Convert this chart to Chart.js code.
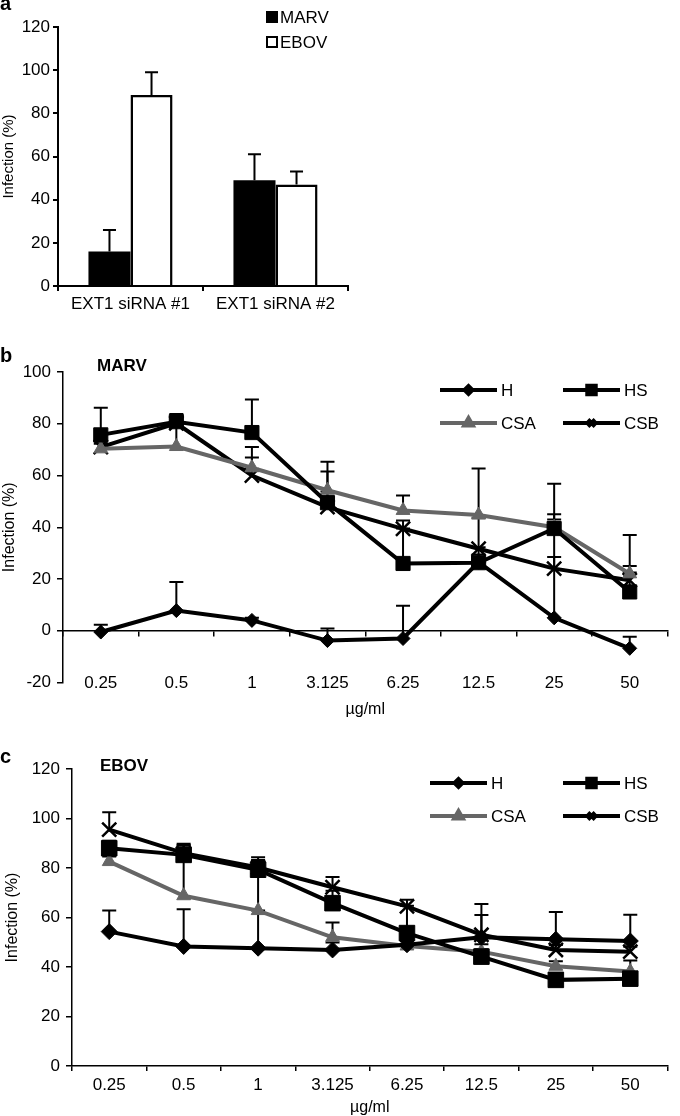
<!DOCTYPE html>
<html>
<head>
<meta charset="utf-8">
<script src="https://cdn.jsdelivr.net/npm/chart.js@4.4.1/dist/chart.umd.min.js"></script>
<style>
  html, body { margin: 0; padding: 0; background: #fff; }
  body { width: 680px; height: 1116px; position: relative; overflow: hidden;
         font-family: "Liberation Sans", Arial, sans-serif; color: #000; }
  .panel { position: absolute; left: 0; }
  .tag { position: absolute; font-weight: bold; font-size: 20px; line-height: 1; }
  .inner { position: absolute; font-weight: bold; font-size: 17px; line-height: 1; }
</style>
</head>
<body>
<canvas class="panel" id="chartA" width="680" height="310" style="top:0"></canvas>
<canvas class="panel" id="chartB" width="680" height="420" style="top:310px"></canvas>
<canvas class="panel" id="chartC" width="680" height="376" style="top:740px"></canvas>
<div class="tag" style="left:0;top:-7px">a</div>
<div class="tag" style="left:0;top:345px">b</div>
<div class="tag" style="left:0;top:746px">c</div>
<div class="inner" style="left:97px;top:357px">MARV</div>
<div class="inner" style="left:100px;top:757px">EBOV</div>
<script>
// Panel a
var siRNAs = ['EXT1 siRNA #1', 'EXT1 siRNA #2'];
var marv = [16, 49];
var marvErr = [10, 12];
var ebov = [88.5, 47];
var ebovErr = [10.5, 6];

// Panels b and c
var doses = ['0.25', '0.5', '1', '3.125', '6.25', '12.5', '25', '50'];

// b: MARV
var bH = [-0.5, 7.8, 4, -3.8, -3, 26.5, 5, -6.8];
var bHErr = [2.8, 11, 1, 4.7, 12.7, 3, 23.5, 4.5];
var bHS = [75.7, 80.8, 76.6, 49.5, 26, 26.3, 39.5, 15];
var bHSErr = [10.5, 3, 12.8, 12, 13.5, 6, 5.5, 10];
var bCSA = [70.3, 71.2, 63, 54.3, 46.5, 44.7, 40, 22];
var bCSAErr = [2, 10, 8, 11, 5.8, 18, 16.8, 15];
var bCSB = [71, 80.2, 60, 47.8, 39.4, 31.7, 24, 19.5];
var bCSBErr = [2, 2, 7, 6, 3.2, 12, 19, 3];

// c: EBOV
var cH = [54.3, 48.3, 47.6, 46.9, 49, 52, 51.2, 50.5];
var cHErr = [8.5, 15, 15.2, 3, 2, 9, 11, 10.6];
var cHS = [88, 85.3, 79.3, 65.8, 53.7, 44.2, 34.8, 35.3];
var cHSErr = [3, 4, 5, 5, 11, 3, 2, 2];
var cCSA = [82.6, 68.8, 62.8, 52, 48.5, 46.2, 40.3, 38.2];
var cCSAErr = [2, 21, 20, 6, 2, 3, 2, 4.4];
var cCSB = [95.5, 86, 80.2, 72.2, 64.5, 53, 46.9, 46.2];
var cCSBErr = [7, 3, 3, 4.2, 2.7, 12.5, 2, 2];

Chart.defaults.font.family = '"Liberation Sans", Arial, sans-serif';
Chart.defaults.font.size = 17;
Chart.defaults.color = '#000';

// upward error bars, drawn behind the markers
var errorBars = {
  id: 'errorBars',
  beforeDatasetsDraw: function (chart, args, opts) {
    var ctx = chart.ctx, y = chart.scales.y;
    ctx.save();
    ctx.strokeStyle = '#000';
    ctx.lineWidth = opts.width;
    chart.data.datasets.forEach(function (ds, i) {
      chart.getDatasetMeta(i).data.forEach(function (pt, j) {
        var base = y.getPixelForValue(ds.data[j]);
        var top = y.getPixelForValue(ds.data[j] + ds.errors[j]);
        ctx.beginPath();
        ctx.moveTo(pt.x, base);
        ctx.lineTo(pt.x, top);
        ctx.moveTo(pt.x - opts.cap, top);
        ctx.lineTo(pt.x + opts.cap, top);
        ctx.stroke();
      });
    });
    ctx.restore();
  }
};

// 2x2 legend with line samples
var lineKey = {
  id: 'lineKey',
  afterDraw: function (chart, args, opts) {
    var ctx = chart.ctx, area = chart.chartArea;
    ctx.save();
    chart.data.datasets.forEach(function (ds, k) {
      var x = area.left + opts.x + (k % 2) * opts.colW;
      var y = area.top + opts.y + Math.floor(k / 2) * opts.rowH;
      ctx.strokeStyle = ds.borderColor;
      ctx.lineWidth = 4;
      ctx.beginPath();
      ctx.moveTo(x, y);
      ctx.lineTo(x + opts.len, y);
      ctx.stroke();
      ctx.fillStyle = ds.borderColor;
      Chart.helpers.drawPoint(ctx, {
        pointStyle: ds.pointStyle, radius: opts.marks[k], borderWidth: 2, rotation: 0
      }, x + opts.len / 2, y);
      ctx.fillStyle = '#000';
      ctx.font = '17px "Liberation Sans", Arial, sans-serif';
      ctx.textBaseline = 'middle';
      ctx.fillText(ds.label, x + opts.len + 4, y + 1);
    });
    ctx.restore();
  }
};

// square keys for the bar panel
var boxKey = {
  id: 'boxKey',
  afterDraw: function (chart, args, opts) {
    var ctx = chart.ctx, area = chart.chartArea;
    ctx.save();
    chart.data.datasets.forEach(function (ds, k) {
      var x = area.left + opts.x;
      var y = area.top + opts.y + k * opts.rowH;
      ctx.fillStyle = ds.backgroundColor;
      ctx.fillRect(x, y - 6, 12, 12);
      ctx.strokeStyle = '#000';
      ctx.lineWidth = 2;
      ctx.strokeRect(x + 1, y - 5, 10, 10);
      ctx.fillStyle = '#000';
      ctx.font = '17px "Liberation Sans", Arial, sans-serif';
      ctx.textBaseline = 'middle';
      ctx.fillText(ds.label, x + 14, y + 1);
    });
    ctx.restore();
  }
};

function series(label, data, err, color, style, radius) {
  return {
    label: label, data: data, errors: err,
    borderColor: color, backgroundColor: color,
    pointBackgroundColor: color, pointBorderColor: color,
    pointStyle: style, pointRadius: radius, pointHoverRadius: radius,
    pointBorderWidth: style === 'crossRot' ? 2.5 : 1,
    borderWidth: 4, tension: 0
  };
}

// Chart a
new Chart(document.getElementById('chartA'), {
  type: 'bar',
  data: {
    labels: siRNAs,
    datasets: [
      { label: 'MARV', data: marv, errors: marvErr, backgroundColor: '#000', borderColor: '#000',
        borderWidth: 0, categoryPercentage: 0.58, barPercentage: 1 },
      { label: 'EBOV', data: ebov, errors: ebovErr, backgroundColor: '#fff', borderColor: '#000',
        borderWidth: 2.5, categoryPercentage: 0.58, barPercentage: 1 }
    ]
  },
  options: {
    responsive: false,
    animation: false,
    layout: { padding: { left: 0, top: 27, right: 332, bottom: 0 } },
    plugins: {
      legend: { display: false },
      tooltip: { enabled: false },
      errorBars: { width: 2, cap: 6.5 },
      boxKey: { x: 208, y: -10, rowH: 25 }
    },
    scales: {
      x: {
        border: { color: '#000', width: 2 },
        grid: { offset: true, drawOnChartArea: false, color: '#000', lineWidth: 2, tickLength: 5 },
        ticks: { padding: 3 },
        afterFit: function (s) { s.height = 24; }
      },
      y: {
        min: 0, max: 120,
        border: { color: '#000', width: 2 },
        grid: { drawOnChartArea: false, color: '#000', lineWidth: 2, tickLength: 5 },
        ticks: { stepSize: 20, padding: 3 },
        title: { display: true, text: 'Infection (%)', font: { size: 15 }, padding: 0 },
        afterFit: function (s) { s.width = 58; }
      }
    }
  },
  plugins: [errorBars, boxKey]
});

// Chart b
new Chart(document.getElementById('chartB'), {
  type: 'line',
  data: {
    labels: doses,
    datasets: [
      series('H', bH, bHErr, '#000', 'rectRot', 7),
      series('HS', bHS, bHSErr, '#000', 'rect', 10),
      series('CSA', bCSA, bCSAErr, '#666', 'triangle', 8),
      series('CSB', bCSB, bCSBErr, '#000', 'crossRot', 10)
    ]
  },
  options: {
    responsive: false,
    animation: false,
    layout: { padding: { left: 0, top: 62, right: 2, bottom: 0 } },
    plugins: {
      legend: { display: false },
      tooltip: { enabled: false },
      errorBars: { width: 2, cap: 7 },
      lineKey: { x: 377, y: 18, colW: 123, rowH: 33, len: 57, marks: [4, 6, 5, 5] }
    },
    scales: {
      x: {
        offset: true,
        border: { display: false },
        grid: { display: false },
        // labels sit level with the -20 tick, as in the source figure
        ticks: { mirror: true, padding: -11 },
        title: { display: true, text: 'µg/ml', font: { size: 16, lineHeight: 1 }, padding: { top: 0, bottom: 12 } },
        afterFit: function (s) { s.height = 47.5; }
      },
      x0: {
        type: 'category', axis: 'x', position: { y: 0 }, offset: true,
        border: { color: '#000', width: 1.5 },
        grid: { offset: true, drawOnChartArea: false, color: '#000', lineWidth: 1.5, tickLength: 5 },
        ticks: { display: false }
      },
      y: {
        min: -20, max: 100,
        border: { color: '#000', width: 1.5 },
        grid: { drawOnChartArea: false, color: '#000', lineWidth: 1.5, tickLength: 6 },
        ticks: { stepSize: 20, padding: 6 },
        title: { display: true, text: 'Infection (%)', font: { size: 16 }, padding: 0 },
        afterFit: function (s) { s.width = 63; }
      }
    }
  },
  plugins: [errorBars, lineKey]
});

// Chart c
new Chart(document.getElementById('chartC'), {
  type: 'line',
  data: {
    labels: doses,
    datasets: [
      series('H', cH, cHErr, '#000', 'rectRot', 8),
      series('HS', cHS, cHSErr, '#000', 'rect', 11),
      series('CSA', cCSA, cCSAErr, '#666', 'triangle', 8),
      series('CSB', cCSB, cCSBErr, '#000', 'crossRot', 10)
    ]
  },
  options: {
    responsive: false,
    animation: false,
    layout: { padding: { left: 0, top: 29, right: 0, bottom: 0 } },
    plugins: {
      legend: { display: false },
      tooltip: { enabled: false },
      errorBars: { width: 2, cap: 7 },
      lineKey: { x: 358, y: 14, colW: 133, rowH: 33, len: 57, marks: [4, 6, 5, 5] }
    },
    scales: {
      x: {
        offset: true,
        border: { color: '#000', width: 1.5 },
        grid: { offset: true, drawOnChartArea: false, color: '#000', lineWidth: 1.5, tickLength: 5 },
        ticks: { padding: 4 },
        title: { display: true, text: 'µg/ml', font: { size: 16, lineHeight: 1 }, padding: { top: 0, bottom: 0 } },
        afterFit: function (s) { s.height = 50; }
      },
      y: {
        min: 0, max: 120,
        border: { color: '#000', width: 1.5 },
        grid: { drawOnChartArea: false, color: '#000', lineWidth: 1.5, tickLength: 6 },
        ticks: { stepSize: 20, padding: 6 },
        title: { display: true, text: 'Infection (%)', font: { size: 16 }, padding: { top: 3, bottom: 0 } },
        afterFit: function (s) { s.width = 72; }
      }
    }
  },
  plugins: [errorBars, lineKey]
});
</script>
</body>
</html>
